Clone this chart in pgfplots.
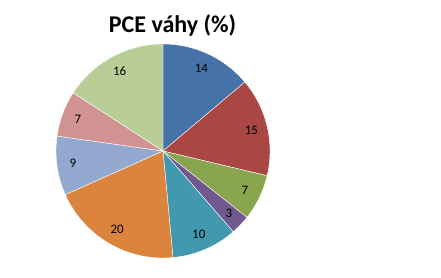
\documentclass[border=0pt]{standalone}
\usepackage{fontspec}
\setmainfont{Carlito}
\usepackage{pgfplots}
\usepackage{pgfplotstable}
\pgfplotsset{compat=1.18}
\definecolor{c0}{HTML}{4572A7}
\definecolor{c1}{HTML}{AA4643}
\definecolor{c2}{HTML}{89A54E}
\definecolor{c3}{HTML}{71588F}
\definecolor{c4}{HTML}{4198AF}
\definecolor{c5}{HTML}{DB843D}
\definecolor{c6}{HTML}{93A9CF}
\definecolor{c7}{HTML}{D19392}
\definecolor{c8}{HTML}{B9CD96}
\pgfplotstableread{
v
14
15
7
3
10
20
9
7
16
}\piedata
\newcommand\labelfont{\fontsize{13bp}{15bp}\selectfont}
\begin{document}
\begin{tikzpicture}
\begin{axis}[
  at={(0,0)}, anchor=south west,
  x=107bp, y=107bp,
  xmin=-1.5234, xmax=2.5981, ymin=-1.1869, ymax=1.4112,
  hide axis, clip=false,
]
\pgfplotstablegetrowsof{\piedata}
\pgfmathtruncatemacro\pN{\pgfplotsretval-1}
\pgfmathsetmacro\psc{360/101}
\def\pcum{0}
\pgfplotsforeachungrouped \i in {0,...,\pN}{%
  \pgfplotstablegetelem{\i}{v}\of\piedata
  \let\pv\pgfplotsretval
  \pgfmathsetmacro\pnxt{\pcum+\pv}%
  \pgfmathsetmacro\pmid{(\pcum+\pnxt)*0.5*\psc}%
  \pgfmathsetmacro\plx{0.85*sin(\pmid)}%
  \pgfmathsetmacro\ply{0.85*cos(\pmid)}%
  \edef\temp{\noexpand\addplot[fill=c\i, draw=white, line width=0.4pt, domain=\pcum:\pnxt, samples=80]
    ({sin(x*\psc)},{cos(x*\psc)}) -- (axis cs:0,0) -- cycle;
    \noexpand\addplot[draw=none, mark=none, nodes near coords={\pv}, nodes near coords align={center},
    every node near coord/.append style={font=\noexpand\labelfont, text=black, inner sep=0pt}]
    coordinates {(\plx,\ply)};}%
  \temp
  \global\let\pcum\pnxt
}
\node[font=\fontsize{24bp}{28bp}\selectfont\bfseries, anchor=base, inner sep=0pt]
  at (axis cs:0.089,1.112) {PCE váhy (\%)};
\end{axis}
\pgfresetboundingbox
\path (0,0) rectangle (441bp,278bp);
\end{tikzpicture}
\end{document}
